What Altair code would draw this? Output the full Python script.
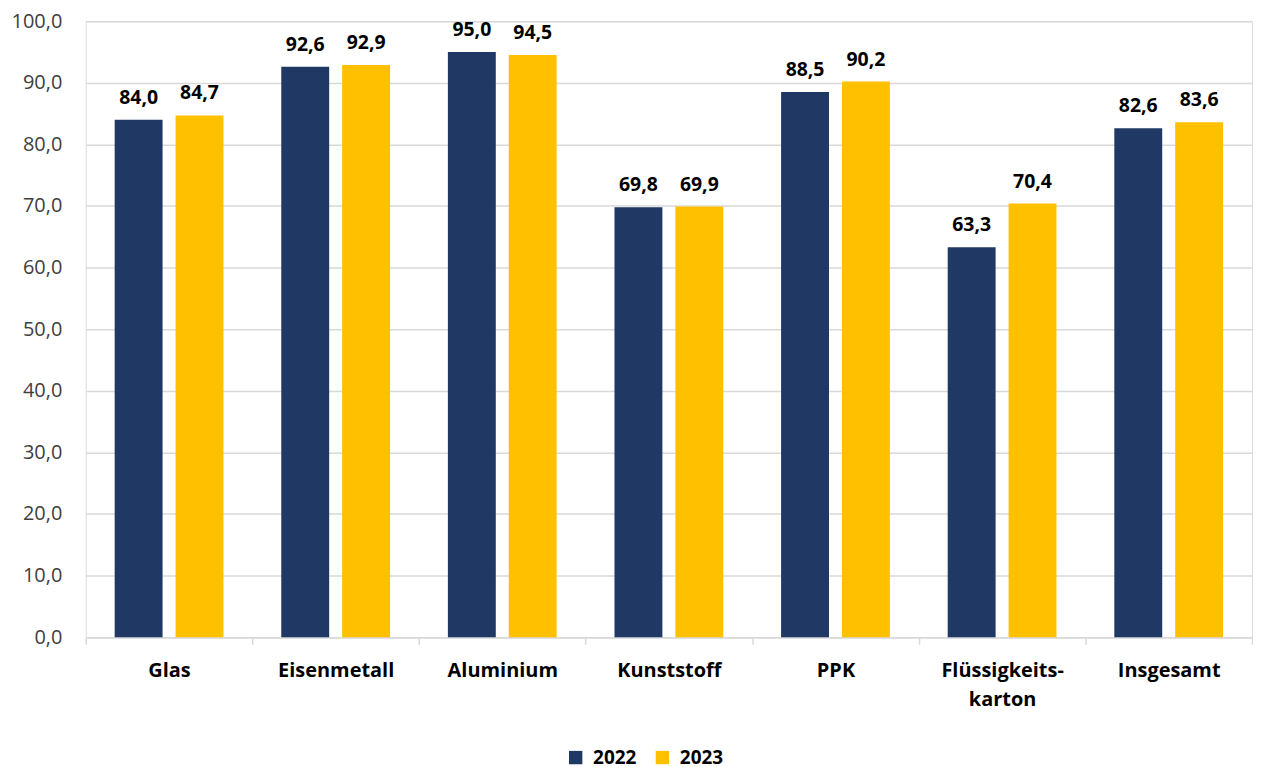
import altair as alt
import pandas as pd

categories = ["Glas", "Eisenmetall", "Aluminium", "Kunststoff", "PPK",
              "Flüssigkeits-\nkarton", "Insgesamt"]
values_2022 = [84.0, 92.6, 95.0, 69.8, 88.5, 63.3, 82.6]
values_2023 = [84.7, 92.9, 94.5, 69.9, 90.2, 70.4, 83.6]
years = ["2022", "2023"]
colors = ["#203864", "#FFC000"]

rows = []
for c, a, b in zip(categories, values_2022, values_2023):
    rows.append({"Kategorie": c, "Jahr": years[0], "Wert": a})
    rows.append({"Kategorie": c, "Jahr": years[1], "Wert": b})
df = pd.DataFrame(rows)

FONT = "Open Sans"

x_enc = alt.X(
    "Kategorie:N", sort=categories, title=None,
    scale=alt.Scale(paddingInner=0, paddingOuter=0),
    axis=alt.Axis(
        labelAngle=0, labelFont=FONT, labelFontSize=20, labelFontWeight="bold",
        labelColor="#000000", labelPadding=16, labelLineHeight=30,
        labelExpr="split(datum.label, '\\n')",
        domainColor="#D9D9D9", domainWidth=1.5, tickColor="#D9D9D9",
        tickWidth=1.5, tickSize=7, tickBand="extent", grid=False,
    ),
)
y_enc = alt.Y(
    "Wert:Q", title=None,
    scale=alt.Scale(domain=[0, 100], nice=False),
    axis=alt.Axis(
        values=list(range(0, 101, 10)),
        labelExpr="replace(format(datum.value, '.1f'), '.', ',')",
        labelFont=FONT, labelFontSize=20, labelColor="#404040",
        labelPadding=24, domain=False, ticks=False,
        gridColor="#D9D9D9", gridWidth=1.5,
        minExtent=78, maxExtent=78,
    ),
)
xoff = alt.XOffset("Jahr:N", scale=alt.Scale(paddingInner=0.213, paddingOuter=0.475))

bars = alt.Chart(df).mark_bar().encode(
    x=x_enc, y=y_enc, xOffset=xoff,
    color=alt.Color(
        "Jahr:N", title=None,
        scale=alt.Scale(domain=years, range=colors),
        legend=alt.Legend(
            orient="none", direction="horizontal", legendX=482, legendY=729,
            symbolType="square", symbolSize=180, symbolStrokeWidth=0,
            labelFont=FONT, labelFontSize=19, labelFontWeight="bold",
            labelColor="#000000", columnPadding=16, labelOffset=8,
        ),
    ),
)

labels = alt.Chart(df).transform_calculate(
    txt="replace(format(datum.Wert, '.1f'), '.', ',')"
).mark_text(
    baseline="bottom", dy=-12, font=FONT, fontSize=19.5, fontWeight="bold",
    color="#000000",
).encode(
    x=alt.X("Kategorie:N", sort=categories),
    xOffset=xoff,
    y="Wert:Q",
    text="txt:N",
)

chart = alt.layer(bars, labels).properties(
    width=1170, height=618,
    padding={"left": 0, "top": 2, "right": 0, "bottom": 0},
).configure_view(stroke=None).configure(background="#FFFFFF")

chart.save("out.html", embed_options={"renderer": "svg", "actions": False})
